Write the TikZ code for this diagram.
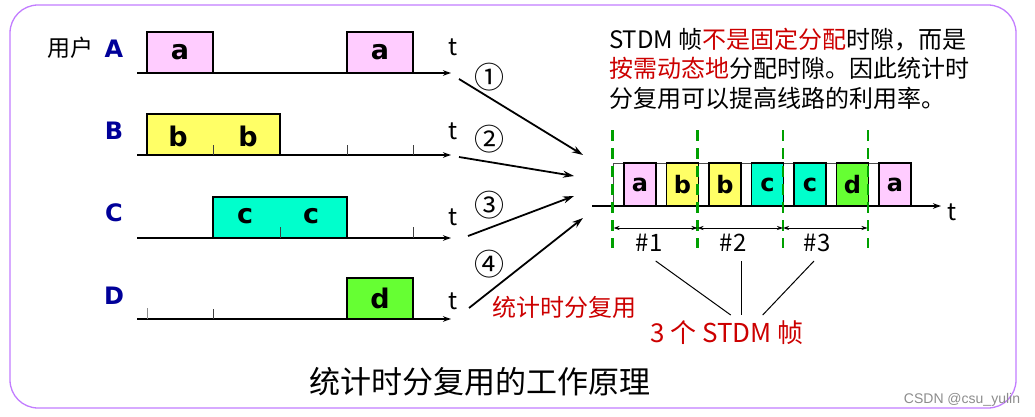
\documentclass[tikz,border=0pt]{standalone}
\usepackage{fontspec}
\setmainfont{Noto Sans CJK SC}
\newfontfamily\vfont{DejaVu Sans}
\newfontfamily\arialf{Liberation Sans}
\usetikzlibrary{arrows.meta}
\definecolor{pinkA}{HTML}{FFCCFF}
\definecolor{yelB}{HTML}{FFFF66}
\definecolor{cyanC}{HTML}{00FFCC}
\definecolor{grnD}{HTML}{66FF33}
\definecolor{dblue}{HTML}{000099}
\definecolor{redT}{HTML}{CC0000}
\definecolor{dgreen}{HTML}{00A000}
\definecolor{frameC}{HTML}{C27DFF}
\begin{document}
\begin{tikzpicture}[x=1pt,y=-1pt,
  every node/.style={inner sep=0pt, outer sep=0pt},
  frame/.style={draw=frameC, line width=1.3pt, rounded corners=28pt},
  ax/.style={line width=1.8pt, -{Stealth[length=8pt,width=5.5pt]}},
  tickm/.style={line width=0.8pt, black!75},
  lbl/.style={font=\vfont\bfseries\fontsize{24}{24}\selectfont, text=dblue},
  slotL/.style={draw, line width=1.6pt, minimum height=41pt, anchor=south west,
     font=\vfont\bfseries\fontsize{27}{27}\selectfont},
  letL/.style={font=\vfont\bfseries\fontsize{27}{27}\selectfont},
  slotR/.style={draw, line width=1.6pt, minimum width=32pt, minimum height=43pt, anchor=south west,
     font=\vfont\bfseries\fontsize{24}{24}\selectfont},
  tlab/.style={font=\fontsize{24}{24}\selectfont},
  para/.style={font=\fontsize{24}{24}\selectfont, anchor=base west},
  circ/.style={font=\fontsize{30}{30}\selectfont},
  mux/.style={line width=1.8pt, -{Stealth[length=11pt,width=7pt]}},
  gdash/.style={draw=dgreen, line width=2.6pt, dash pattern=on 11pt off 7pt},
  dim/.style={line width=0.8pt, {Stealth[length=6pt,width=4pt]}-{Stealth[length=6pt,width=4pt]}},
  brace/.style={line width=1pt}
]
\useasboundingbox (0,0) rectangle (1035,417);
\draw[frame] (10,5) rectangle (1016,408);

% ---- left labels
\node[font=\fontsize{23}{23}\selectfont] (user) at (70,48) {用户};
\node[lbl] (LA) at (114,49) {A};
\node[lbl] (LB) at (114,131) {B};
\node[lbl] (LC) at (114,213) {C};
\node[lbl] (LD) at (114,296) {D};

% ---- axes
\coordinate (A0) at (137,73);  \coordinate (A1e) at (451,73);
\coordinate (B0) at (137,155); \coordinate (B1e) at (451,155);
\coordinate (C0) at (137,238); \coordinate (C1e) at (451,238);
\coordinate (D0) at (137,319); \coordinate (D1e) at (451,319);

% boxes A
\node[slotL, fill=pinkA, minimum width=66pt] (a1) at (147,73) {a};
\node[slotL, fill=pinkA, minimum width=66pt] (a2) at (347,73) {a};
% boxes B
\node[slotL, fill=yelB, minimum width=133pt] (bb) at (147,155) {};
\node[letL] (b1) at (178,136) {b};
\node[letL] (b2) at (248,136) {b};
% boxes C
\node[slotL, fill=cyanC, minimum width=134pt] (cc) at (213,238) {};
\node[letL] (c1) at (245,216) {c};
\node[letL] (c2) at (311,216) {c};
% box D
\node[slotL, fill=grnD, minimum width=66pt] (d1) at (347,319) {d};

\draw[ax] (A0) -- (A1e);
\draw[ax] (B0) -- (B1e);
\draw[ax] (C0) -- (C1e);
\draw[ax] (D0) -- (D1e);

% ticks
\draw[tickm] (213,145) -- (213,155);
\draw[tickm] (347,145) -- (347,155);
\draw[tickm] (413,145) -- (413,155);
\draw[tickm] (280,227) -- (280,238);
\draw[tickm] (413,227) -- (413,238);
\draw[tickm, black!45] (147,308) -- (147,319);
\draw[tickm] (213,309) -- (213,319);

% t labels
\node[tlab] (tA) at (453,47) {t};
\node[tlab] (tB) at (453,131) {t};
\node[tlab] (tC) at (453,217) {t};
\node[tlab] (tD) at (453,301) {t};

% ---- multiplexing arrows
\coordinate (m1s) at (459,79);  \coordinate (m1e) at (583,155);
\coordinate (m2s) at (459,157); \coordinate (m2e) at (574,176);
\coordinate (m3s) at (468,236); \coordinate (m3e) at (574,196);
\coordinate (m4s) at (469,308); \coordinate (m4e) at (583,218);
\draw[mux] (m1s) -- (m1e);
\draw[mux] (m2s) -- (m2e);
\draw[mux] (m3s) -- (m3e);
\draw[mux] (m4s) -- (m4e);
\node[circ] (n1) at (489,77) {①};
\node[circ] (n2) at (489,139) {②};
\node[circ] (n3) at (489,205) {③};
\node[circ] (n4) at (489,264) {④};
\node[font=\fontsize{24}{24}\selectfont, text=redT] (stdmlab) at (564,307) {统计时分复用};

% ---- paragraph
\node[para] (p1) at (609,49) {STDM 帧\textcolor{redT}{不是固定分配}时隙，而是};
\node[para] (p2) at (609,78) {\textcolor{redT}{按需动态地}分配时隙。因此统计时};
\node[para] (p3) at (609,108) {分复用可以提高线路的利用率。};

% ---- STDM frame line
\draw[line width=0.6pt, black!70] (613,206) -- (613,163) -- (911,163);
\node[slotR, fill=pinkA] (r1) at (624,206) {a};
\node[slotR, fill=yelB]  (r2) at (666.5,206) {b};
\node[slotR, fill=yelB]  (r3) at (709,206) {b};
\node[slotR, fill=cyanC] (r4) at (751.5,206) {c};
\node[slotR, fill=cyanC] (r5) at (794,206) {c};
\node[slotR, fill=grnD]  (r6) at (836.5,206) {d};
\node[slotR, fill=pinkA] (r7) at (879,206) {a};
\coordinate (R0) at (592,206); \coordinate (R1e) at (941,206);
\draw[ax] (R0) -- (R1e);
\node[tlab] (tR) at (952,212) {t};

% green dashed separators
\coordinate (g1t) at (612.7,130); \coordinate (g1b) at (612.7,248);
\coordinate (g2t) at (697.5,130); \coordinate (g2b) at (697.5,248);
\coordinate (g3t) at (783,130);   \coordinate (g3b) at (783,248);
\coordinate (g4t) at (868,130);   \coordinate (g4b) at (868,248);
\draw[gdash] (g1t) -- (g1b);
\draw[gdash] (g2t) -- (g2b);
\draw[gdash] (g3t) -- (g3b);
\draw[gdash] (g4t) -- (g4b);

% dimension arrows
\coordinate (d1) at (613.5,228); \coordinate (d2) at (697.5,228);
\coordinate (d3) at (783,228);   \coordinate (d4) at (867.5,228);
\draw[dim] (d1) -- (d2);
\draw[dim] (d2) -- (d3);
\draw[dim] (d3) -- (d4);
\node[tlab] (h1) at (649,243) {\#1};
\node[tlab] (h2) at (733,243) {\#2};
\node[tlab] (h3) at (817,243) {\#3};

% lines to "3 STDM frames"
\node[font=\fontsize{26}{26}\selectfont, text=redT] (three) at (727,333) {3 个 STDM 帧};
\coordinate (l1s) at (655.7,261); \coordinate (l1e) at (730.7,315);
\coordinate (l2s) at (741,261);   \coordinate (l2e) at (741,315);
\coordinate (l3s) at (814,261);   \coordinate (l3e) at (762.7,315);
\draw[brace] (l1s) -- (l1e);
\draw[brace] (l2s) -- (l2e);
\draw[brace] (l3s) -- (l3e);

% ---- title
\node[font=\fontsize{31}{31}\selectfont] (title) at (480,382) {统计时分复用的工作原理};

% watermark
\node[font=\arialf\fontsize{14}{14}\selectfont, text=black!45] (wm) at (962,400) {CSDN @csu\_yulin};
\end{tikzpicture}
\end{document}
